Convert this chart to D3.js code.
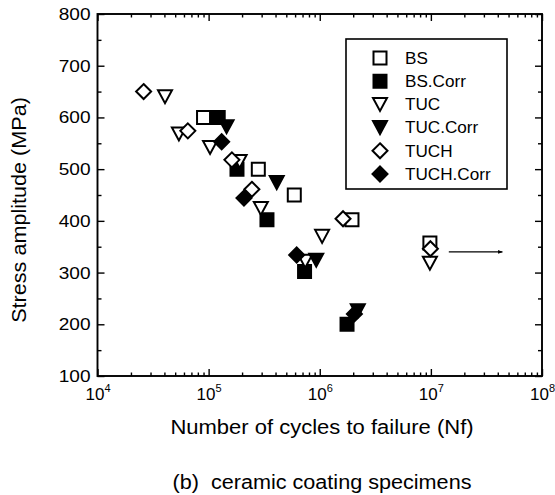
<!DOCTYPE html>
<html>
<head>
<meta charset="utf-8">
<script src="https://cdn.jsdelivr.net/npm/d3@7"></script>
<style>
  html, body { margin: 0; padding: 0; background: #fff; }
  svg text { font-family: "Liberation Sans", Arial, Helvetica, sans-serif; fill: #000; }
</style>
</head>
<body>
<svg id="chart" width="555" height="495"></svg>
<script>
// ---------- data ----------
const seriesNames = ["BS", "BS.Corr", "TUC", "TUC.Corr", "TUCH", "TUCH.Corr"];
const seriesShapes = ["square", "square", "triangle", "triangle", "diamond", "diamond"];
const seriesFilled = [false, true, false, true, false, true];

const bsCycles     = [9.0e4, 2.8e5, 5.9e5, 1.95e6, 9.8e6];
const bsStress     = [600, 500, 450, 402, 357];

const bsCorrCycles = [1.22e5, 1.8e5, 3.35e5, 7.3e5, 1.76e6];
const bsCorrStress = [600, 500, 402, 302, 200];

const tucCycles    = [4.05e4, 5.4e4, 1.03e5, 1.9e5, 2.95e5, 1.05e6, 7.4e5, 9.8e6];
const tucStress    = [640, 568, 542, 515, 424, 370, 322, 318];

const tucCorrCycles = [1.45e5, 4.1e5, 9.3e5, 2.2e6];
const tucCorrStress = [582, 474, 324, 226];

const tuchCycles   = [2.6e4, 6.5e4, 1.62e5, 2.45e5, 1.62e6, 9.9e6];
const tuchStress   = [650, 574, 518, 461, 404, 346];

const tuchCorrCycles = [1.31e5, 2.08e5, 6.2e5, 2.05e6];
const tuchCorrStress = [553, 444, 334, 220];

const xTickValues = [1e4, 1e5, 1e6, 1e7, 1e8];
const xTickExponents = ["4", "5", "6", "7", "8"];
const yTickValues = [100, 200, 300, 400, 500, 600, 700, 800];
const yMinorValues = [150, 250, 350, 450, 550, 650, 750];

const arrowCycles = [1.45e7, 4.4e7];
const arrowStress = [340, 340];

const xTitle = "Number of cycles to failure (Nf)";
const yTitle = "Stress amplitude (MPa)";
const caption = "(b)  ceramic coating specimens";

const allCycles = [bsCycles, bsCorrCycles, tucCycles, tucCorrCycles, tuchCycles, tuchCorrCycles];
const allStress = [bsStress, bsCorrStress, tucStress, tucCorrStress, tuchStress, tuchCorrStress];

// ---------- layout ----------
const L = 97.5, R = 542, T = 14, B = 376;
const svg = d3.select("#chart");

const x = d3.scaleLog().domain([1e4, 1e8]).range([L, R]);
const y = d3.scaleLinear().domain([100, 800]).range([B, T]);

const xMinor = [];
for (let e = 4; e < 8; e++) for (let m = 2; m <= 9; m++) xMinor.push(m * Math.pow(10, e));

function styleAxis(g) {
  g.select(".domain").remove();
  g.selectAll(".tick line").attr("stroke", "#000").attr("stroke-width", 1.4);
}
function stretch(sel, k) {
  sel.each(function() {
    const w = this.getComputedTextLength();
    d3.select(this).attr("textLength", w * k).attr("lengthAdjust", "spacingAndGlyphs");
  });
}

// bottom major
const gxb = svg.append("g").attr("transform", `translate(0,${B})`)
  .call(d3.axisBottom(x).tickValues(xTickValues).tickSize(-7).tickPadding(9).tickFormat(() => ""));
styleAxis(gxb);
gxb.selectAll(".tick text").each(function(d, i) {
  const t = d3.select(this).attr("font-size", 17).attr("text-anchor", "middle").attr("dy", "0.9em");
  t.append("tspan").text("10");
  t.append("tspan").attr("font-size", 11).attr("dy", "-0.75em").text(xTickExponents[i]);
});
// bottom minor
styleAxis(svg.append("g").attr("transform", `translate(0,${B})`)
  .call(d3.axisBottom(x).tickValues(xMinor).tickSize(-3.5).tickFormat(() => "")));
// top major + minor
styleAxis(svg.append("g").attr("transform", `translate(0,${T})`)
  .call(d3.axisTop(x).tickValues(xTickValues).tickSize(-7).tickFormat(() => "")));
styleAxis(svg.append("g").attr("transform", `translate(0,${T})`)
  .call(d3.axisTop(x).tickValues(xMinor).tickSize(-3.5).tickFormat(() => "")));

// left
const gyl = svg.append("g").attr("transform", `translate(${L},0)`)
  .call(d3.axisLeft(y).tickValues(yTickValues).tickSize(-7).tickPadding(8).tickFormat(d3.format("d")));
styleAxis(gyl);
gyl.selectAll(".tick text").attr("font-size", 17).attr("x", -7);
stretch(gyl.selectAll(".tick text"), 1.12);
styleAxis(svg.append("g").attr("transform", `translate(${L},0)`)
  .call(d3.axisLeft(y).tickValues(yMinorValues).tickSize(-4).tickFormat(() => "")));
// right
styleAxis(svg.append("g").attr("transform", `translate(${R},0)`)
  .call(d3.axisRight(y).tickValues(yTickValues).tickSize(-7).tickFormat(() => "")));
styleAxis(svg.append("g").attr("transform", `translate(${R},0)`)
  .call(d3.axisRight(y).tickValues(yMinorValues).tickSize(-4).tickFormat(() => "")));

// frame
svg.append("rect").attr("x", L).attr("y", T).attr("width", R - L).attr("height", B - T)
  .attr("fill", "none").attr("stroke", "#000").attr("stroke-width", 1.9);

// ---------- symbols ----------
function shapePath(shape) {
  if (shape === "square") return "M-6.5,-6.5H6.5V6.5H-6.5Z";
  if (shape === "triangle") return "M-7,-6.5L7,-6.5L0,6.5Z";
  return "M0,-7.5L7.5,0L0,7.5L-7.5,0Z";
}

seriesNames.forEach((name, si) => {
  const pts = allCycles[si].map((c, i) => ({ c: c, s: allStress[si][i] }));
  svg.append("g").selectAll("path").data(pts).enter().append("path")
    .attr("d", shapePath(seriesShapes[si]))
    .attr("transform", d => `translate(${x(d.c)},${y(d.s)})`)
    .attr("fill", seriesFilled[si] ? "#000" : "#fff")
    .attr("stroke", "#000")
    .attr("stroke-width", 2)
    .attr("stroke-linejoin", "miter");
});

// arrow
svg.append("defs").append("marker").attr("id", "ah")
  .attr("viewBox", "0 0 10 10").attr("refX", 9).attr("refY", 5)
  .attr("markerWidth", 6).attr("markerHeight", 4).attr("orient", "auto")
  .append("path").attr("d", "M0,1L10,5L0,9Z").attr("fill", "#000");
svg.append("line")
  .attr("x1", x(arrowCycles[0])).attr("y1", y(arrowStress[0]))
  .attr("x2", x(arrowCycles[1])).attr("y2", y(arrowStress[1]))
  .attr("stroke", "#000").attr("stroke-width", 1.2).attr("marker-end", "url(#ah)");

// ---------- legend ----------
const lg = svg.append("g");
lg.append("rect").attr("x", 346).attr("y", 39).attr("width", 161).attr("height", 150)
  .attr("fill", "#fff").attr("stroke", "#000").attr("stroke-width", 1.6);
const rowY = d3.scalePoint().domain(seriesNames).range([58, 174]);
seriesNames.forEach((name, si) => {
  lg.append("path").attr("d", shapePath(seriesShapes[si]))
    .attr("transform", `translate(380,${rowY(name)})`)
    .attr("fill", seriesFilled[si] ? "#000" : "#fff")
    .attr("stroke", "#000").attr("stroke-width", 2);
  const t = lg.append("text").attr("x", 405).attr("y", rowY(name)).attr("dy", "0.36em")
    .attr("font-size", 16).text(name);
  stretch(t, 1.07);
});

// ---------- titles ----------
const xt = svg.append("text").attr("x", 322).attr("y", 434).attr("text-anchor", "middle")
  .attr("font-size", 20).text(xTitle);
stretch(xt, 1.1);
const yt = svg.append("text").attr("transform", "translate(26,210) rotate(-90)").attr("text-anchor", "middle")
  .attr("font-size", 20).text(yTitle);
stretch(yt, 1.08);
const ct = svg.append("text").attr("x", 322).attr("y", 489).attr("text-anchor", "middle")
  .attr("font-size", 20).style("white-space", "pre").text(caption);
stretch(ct, 1.08);
</script>
</body>
</html>
